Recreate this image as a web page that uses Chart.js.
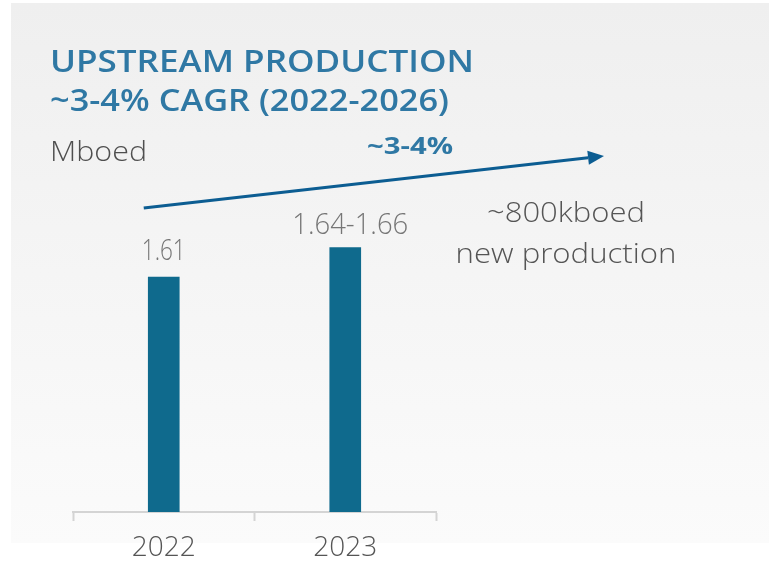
<!DOCTYPE html>
<html>
<head>
<meta charset="utf-8">
<script src="https://cdn.jsdelivr.net/npm/chart.js@4/dist/chart.umd.min.js"></script>
<style>
  html, body { margin: 0; padding: 0; background: #ffffff; }
  canvas { display: block; }
</style>
</head>
<body>
<canvas id="chart" width="769" height="570"></canvas>
<script>
const years = ['2022', '2023'];
const production = [1.61, 1.65];            // Mboed, 2023 = midpoint of 1.64-1.66
const valueLabels = ['1.61', '1.64-1.66'];

const titleLines = ['UPSTREAM PRODUCTION', '~3-4% CAGR (2022-2026)'];
const unitLabel = 'Mboed';
const cagrLabel = '~3-4%';
const noteLines = ['~800kboed', 'new production'];

const BAR_COLOR = '#0f6a8d';
const BLUE_TEXT = '#2f78a4';
const ARROW_COLOR = '#0c5d92';

// draw text squeezed/stretched to a given width (fonts differ from the slide's)
function fitText(ctx, text, x, y, size, weight, color, width, align) {
  ctx.save();
  ctx.font = weight + ' ' + size + 'px "Open Sans", sans-serif';
  ctx.fillStyle = color;
  ctx.textBaseline = 'alphabetic';
  ctx.textAlign = 'left';
  const w = ctx.measureText(text).width;
  const sx = width ? width / w : 1;
  const realW = w * sx;
  let left = x;
  if (align === 'center') left = x - realW / 2;
  ctx.translate(left, y);
  ctx.scale(sx, 1);
  ctx.fillText(text, 0, 0);
  ctx.restore();
}

const backgroundPanel = {
  id: 'backgroundPanel',
  beforeDraw(chart) {
    const ctx = chart.ctx;
    const g = ctx.createLinearGradient(0, 3, 0, 545);
    g.addColorStop(0, '#efefef');
    g.addColorStop(1, '#fbfbfb');
    ctx.save();
    ctx.fillStyle = g;
    ctx.fillRect(11, 3, chart.width - 11, 540);
    ctx.restore();
  }
};

const annotations = {
  id: 'annotations',
  afterDatasetsDraw(chart) {
    const ctx = chart.ctx;
    const x = chart.scales.x;

    // titles
    fitText(ctx, titleLines[0], 50, 72, 30, '600', BLUE_TEXT, 424);
    fitText(ctx, titleLines[1], 50, 111, 30, '600', BLUE_TEXT, 399);
    fitText(ctx, unitLabel, 50, 161, 27, '300', '#4f4f4f', 97);

    // value labels above bars
    const meta = chart.getDatasetMeta(0);
    const labelW = [44, 116];
    const labelDx = [0, 5];
    meta.data.forEach((bar, i) => {
      const gap = i === 0 ? 17 : 14;
      fitText(ctx, valueLabels[i], bar.x + labelDx[i], bar.y - gap, 29, '300', '#767676', labelW[i], 'center');
    });

    // growth arrow, starting just left of the first bar
    const x0 = x.getPixelForValue(0) - 20;
    const y0 = 208;
    const x1 = 604;
    const y1 = 156;
    const ang = Math.atan2(y1 - y0, x1 - x0);
    const headLen = 16, headHalf = 7;
    ctx.save();
    ctx.strokeStyle = ARROW_COLOR;
    ctx.fillStyle = ARROW_COLOR;
    ctx.lineWidth = 3;
    ctx.beginPath();
    ctx.moveTo(x0, y0);
    ctx.lineTo(x1 - headLen * Math.cos(ang), y1 - headLen * Math.sin(ang));
    ctx.stroke();
    ctx.beginPath();
    ctx.moveTo(x1, y1);
    ctx.lineTo(x1 - headLen * Math.cos(ang) + headHalf * Math.sin(ang), y1 - headLen * Math.sin(ang) - headHalf * Math.cos(ang));
    ctx.lineTo(x1 - headLen * Math.cos(ang) - headHalf * Math.sin(ang), y1 - headLen * Math.sin(ang) + headHalf * Math.cos(ang));
    ctx.closePath();
    ctx.fill();
    ctx.restore();

    fitText(ctx, cagrLabel, 410, 154, 24, '700', BLUE_TEXT, 86, 'center');

    // note on the right
    fitText(ctx, noteLines[0], 566, 222, 27, '300', '#555555', 158, 'center');
    fitText(ctx, noteLines[1], 566, 263, 27, '300', '#555555', 221, 'center');
  }
};

new Chart(document.getElementById('chart').getContext('2d'), {
  type: 'bar',
  data: {
    labels: years,
    datasets: [{
      data: production,
      backgroundColor: BAR_COLOR,
      borderWidth: 0,
      barThickness: 31
    }]
  },
  options: {
    responsive: false,
    animation: false,
    devicePixelRatio: 1,
    layout: { padding: { left: 73, right: 333, top: 180, bottom: 0 } },
    plugins: {
      legend: { display: false },
      tooltip: { enabled: false }
    },
    scales: {
      x: {
        grid: {
          display: true,
          drawOnChartArea: false,
          drawTicks: true,
          tickLength: 9,
          tickWidth: 2,
          color: '#d4d4d4'
        },
        border: { display: true, color: '#d4d4d4', width: 2 },
        ticks: {
          color: '#555555',
          padding: 10,
          font: { family: '"Open Sans", sans-serif', size: 28, weight: '300' }
        },
        afterFit(scale) { scale.height = 58; }
      },
      y: {
        display: false,
        min: 1.29,
        max: 1.742
      }
    }
  },
  plugins: [backgroundPanel, annotations]
});
</script>
</body>
</html>
